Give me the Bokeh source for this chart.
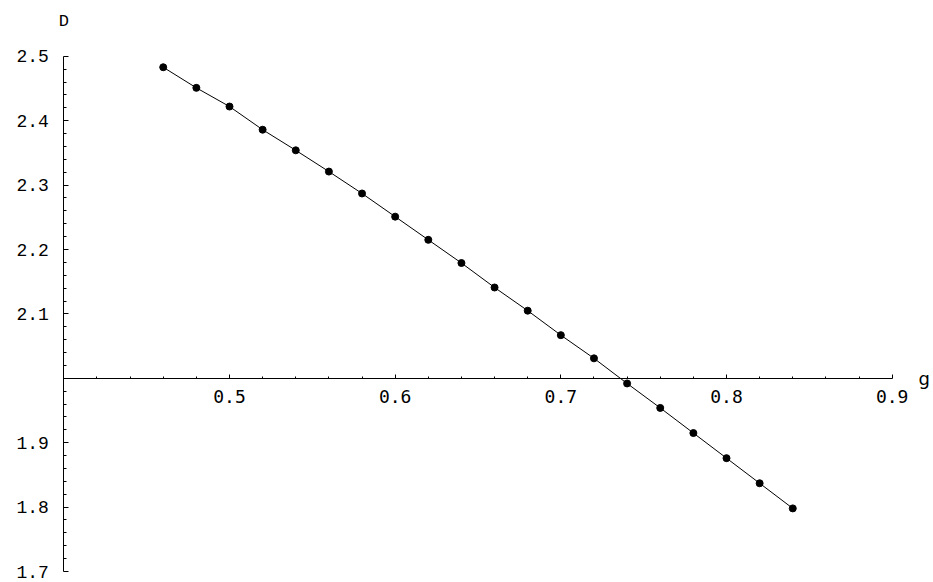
from bokeh.plotting import figure
from bokeh.models import Range1d, LinearAxis, FixedTicker, Label
from bokeh.embed import file_html
from bokeh.resources import INLINE

# Fractal dimension D as a function of g
g_values = [0.46, 0.48, 0.50, 0.52, 0.54, 0.56, 0.58, 0.60, 0.62, 0.64,
            0.66, 0.68, 0.70, 0.72, 0.74, 0.76, 0.78, 0.80, 0.82, 0.84]
d_values = [2.483, 2.451, 2.422, 2.386, 2.354, 2.321, 2.287, 2.251, 2.215, 2.179,
            2.141, 2.105, 2.067, 2.031, 1.992, 1.954, 1.915, 1.876, 1.837, 1.798]

# Axis ticks (the axes cross at g = 0.4, D = 2.0)
x_major_ticks = [0.5, 0.6, 0.7, 0.8, 0.9]
x_tick_labels = ["0.5", "0.6", "0.7", "0.8", "0.9"]
x_minor_ticks = [0.42, 0.44, 0.46, 0.48, 0.52, 0.54, 0.56, 0.58, 0.62, 0.64, 0.66, 0.68,
                 0.72, 0.74, 0.76, 0.78, 0.82, 0.84, 0.86, 0.88]
y_major_ticks = [1.7, 1.8, 1.9, 2.1, 2.2, 2.3, 2.4, 2.5]
y_tick_labels = ["1.7", "1.8", "1.9", "2.1", "2.2", "2.3", "2.4", "2.5"]
y_minor_ticks = [1.72, 1.74, 1.76, 1.78, 1.82, 1.84, 1.86, 1.88, 1.92, 1.94, 1.96, 1.98,
                 2.02, 2.04, 2.06, 2.08, 2.12, 2.14, 2.16, 2.18, 2.22, 2.24, 2.26, 2.28,
                 2.32, 2.34, 2.36, 2.38, 2.42, 2.44, 2.46, 2.48]

x_origin = 0.4
y_origin = 2.0

W, H = 933, 582
x0 = 0.5 - 229 / 1656.7
x1 = x0 + W / 1656.7
y1 = 2.0 + 377.8 / 644.0
y0 = y1 - H / 644.0

p = figure(width=W, height=H, output_backend="svg", toolbar_location=None,
           x_range=Range1d(x0, x1), y_range=Range1d(y0, y1),
           x_axis_type=None, y_axis_type=None, min_border=0)
p.outline_line_color = None
p.background_fill_color = "white"
p.border_fill_color = "white"

xaxis = LinearAxis(
    fixed_location=y_origin, bounds=(0.4, 0.9),
    ticker=FixedTicker(ticks=x_major_ticks, minor_ticks=x_minor_ticks),
    major_label_overrides={t: s for t, s in zip(x_major_ticks, x_tick_labels)},
    axis_line_color="black", axis_line_width=1,
    major_tick_in=4, major_tick_out=0, minor_tick_in=2, minor_tick_out=0,
    major_tick_line_color="black", minor_tick_line_color="black",
    major_label_text_font="DejaVu Sans Mono", major_label_text_font_size="18px",
    major_label_text_color="black", major_label_standoff=12,
)
yaxis = LinearAxis(
    fixed_location=x_origin, bounds=(1.7, 2.5),
    ticker=FixedTicker(ticks=y_major_ticks, minor_ticks=y_minor_ticks),
    major_label_overrides={t: s for t, s in zip(y_major_ticks, y_tick_labels)},
    axis_line_color="black", axis_line_width=1,
    major_tick_in=5, major_tick_out=0, minor_tick_in=3, minor_tick_out=0,
    major_tick_line_color="black", minor_tick_line_color="black",
    major_label_text_font="Liberation Mono", major_label_text_font_size="18px",
    major_label_text_color="black", major_label_standoff=15,
)
p.add_layout(xaxis, "below")
p.add_layout(yaxis, "left")

p.line(g_values, d_values, line_color="black", line_width=1)
p.scatter(g_values, d_values, size=7, fill_color="black", line_color="black")

p.add_layout(Label(x=x_origin, y=2.5, text="D", x_offset=0, y_offset=35,
                   text_font="Liberation Mono", text_font_size="17px",
                   text_align="center", text_baseline="middle", text_color="black"))
p.add_layout(Label(x=0.9, y=y_origin, text="g", x_offset=32, y_offset=0,
                   text_font="DejaVu Sans", text_font_size="18px",
                   text_align="center", text_baseline="middle", text_color="black"))

open("out.html", "w").write(file_html(p, INLINE))
